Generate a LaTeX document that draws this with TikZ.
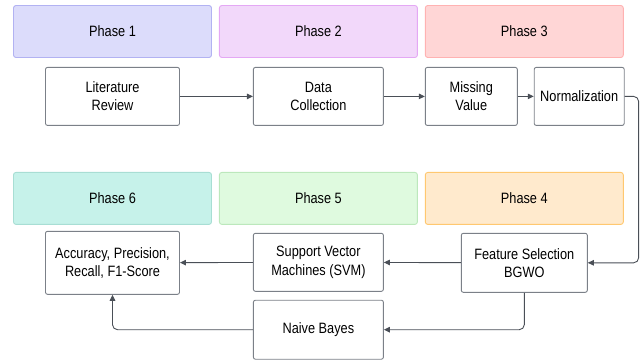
\documentclass[tikz,border=0pt]{standalone}
\usepackage{fontspec}
\setmainfont[FakeStretch=0.85]{Liberation Sans}
\usepackage{xcolor}
\usetikzlibrary{arrows.meta,positioning}

\definecolor{edgegray}{HTML}{4A4F57}
\definecolor{boxgray}{HTML}{7B8088}

\begin{document}
\begin{tikzpicture}[
    node distance=7pt,
    phase/.style={rectangle, draw, rounded corners=2.5pt, line width=0.9pt, minimum width=198pt, minimum height=52pt, text centered, font=\fontsize{15}{18.3}\selectfont},
    stepbox/.style={rectangle, draw=boxgray, fill=white, rounded corners=2pt, line width=0.9pt, minimum height=58pt, align=center, inner sep=2pt, font=\fontsize{15}{18.3}\selectfont},
    flow/.style={-{Triangle[length=6pt,width=5.5pt]}, draw=edgegray, line width=0.9pt, rounded corners=5pt}
]
    \useasboundingbox (0,0) rectangle (641pt,-360pt);

    \node[phase, fill={rgb,255:red,220;green,220;blue,251}, draw={rgb,255:red,178;green,178;blue,242}] (p1) at (112.5pt,-31.5pt) {Phase 1};
    \node[phase, fill={rgb,255:red,242;green,216;blue,250}, draw={rgb,255:red,228;green,168;blue,244}, right=of p1] (p2) {Phase 2};
    \node[phase, fill={rgb,255:red,255;green,214;blue,214}, draw={rgb,255:red,255;green,178;blue,178}, right=of p2] (p3) {Phase 3};
    \node[phase, fill={rgb,255:red,198;green,242;blue,234}, draw={rgb,255:red,168;green,222;blue,212}, below=114pt of p1] (p6) {Phase 6};
    \node[phase, fill={rgb,255:red,223;green,250;blue,223}, draw={rgb,255:red,188;green,232;blue,188}, right=of p6] (p5) {Phase 5};
    \node[phase, fill={rgb,255:red,255;green,234;blue,205}, draw={rgb,255:red,255;green,200;blue,112}, right=of p5] (p4) {Phase 4};

    \node[stepbox, minimum width=134pt, below=9pt of p1] (lit) {Literature\\Review};
    \node[stepbox, minimum width=130pt, below=9pt of p2] (data) {Data\\Collection};
    \node[stepbox, minimum width=92pt, below right=9pt and 0pt of p3.south west] (miss) {Missing\\Value};
    \node[stepbox, minimum width=90pt, right=16pt of miss] (norm) {Normalization};

    \node[stepbox, minimum width=126pt, minimum height=59pt, below=8pt of p4] (feat) {Feature Selection\\BGWO};
    \node[stepbox, minimum width=130pt, below=8pt of p5] (svm) {Support Vector\\Machines (SVM)};
    \node[stepbox, minimum width=134pt, minimum height=63pt, below=6pt of p6] (acc) {Accuracy, Precision,\\Recall, F1-Score};
    \node[stepbox, minimum width=130pt, minimum height=59pt, below=8pt of svm] (nb) {Naive Bayes};

    \draw[flow] (lit) -- (data);
    \draw[flow] (data) -- (miss);
    \draw[flow] (miss) -- (norm);
    \draw[flow] (norm.east) -- ++(14pt,0) |- (feat.east);
    \draw[flow] (feat) -- (svm);
    \draw[flow] (svm) -- (acc);
    \draw[flow] (feat.south) |- (nb.east);
    \draw[flow] (nb.west) -| (acc.south);
\end{tikzpicture}
\end{document}
